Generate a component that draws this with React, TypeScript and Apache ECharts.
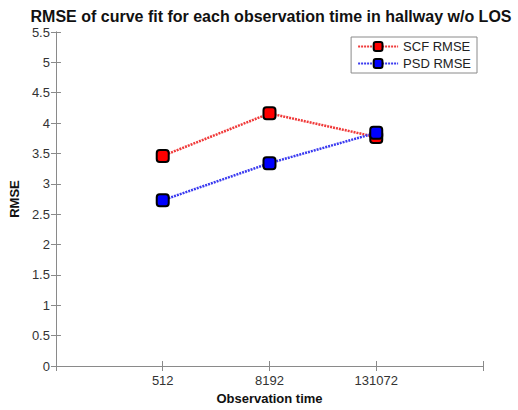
import React, { useEffect, useRef } from "react";
import * as echarts from "echarts";

const categories = ["512", "8192", "131072"];
const scfRmse = [3.46, 4.16, 3.77];
const psdRmse = [2.73, 3.34, 3.84];
const yTicks = [0, 0.5, 1, 1.5, 2, 2.5, 3, 3.5, 4, 4.5, 5, 5.5];

export default function App() {
  const ref = useRef<HTMLDivElement>(null);
  useEffect(() => {
    if (!ref.current) return;
    const chart = echarts.init(ref.current, undefined, { renderer: "svg" });
    const font = "Liberation Sans, Arial, sans-serif";
    const toPts = (arr: number[]) => arr.map((v, i) => [i + 1, v]);
    const axisLine = { show: true, lineStyle: { color: "#8a8a8a", width: 1 } };
    chart.setOption({
      animation: false,
      backgroundColor: "#fff",
      title: {
        text: "RMSE of curve fit for each observation time in hallway w/o LOS",
        left: 266,
        textAlign: "center",
        top: 3,
        textStyle: { fontFamily: font, fontSize: 16, fontWeight: "bold", color: "#111" },
      },
      grid: { left: 52, right: 35, top: 32, bottom: 38, containLabel: false },
      legend: {
        right: 41,
        top: 37,
        orient: "vertical",
        itemWidth: 40,
        itemHeight: 11,
        itemGap: 4,
        padding: [3, 6, 3, 6],
        backgroundColor: "#fff",
        borderColor: "#8a8a8a",
        borderWidth: 1,
        textStyle: { fontFamily: font, fontSize: 13, color: "#222" },
        data: ["SCF RMSE", "PSD RMSE"],
      },
      xAxis: [
        {
          type: "value",
          min: 0,
          max: 4,
          interval: 1,
          name: "Observation time",
          nameLocation: "middle",
          nameGap: 26,
          nameTextStyle: { fontFamily: font, fontSize: 13, fontWeight: "bold", color: "#111" },
          axisLine,
          axisTick: { show: true, inside: true, length: 5, lineStyle: { color: "#8a8a8a" } },
          axisLabel: {
            fontFamily: font,
            fontSize: 13,
            color: "#333",
            margin: 8,
            formatter: (v: number) => categories[v - 1] ?? "",
          },
          splitLine: { show: false },
        },
        {
          type: "value",
          position: "top",
          min: 0,
          max: 4,
          interval: 1,
          axisLine,
          axisTick: { show: true, inside: true, length: 5, lineStyle: { color: "#8a8a8a" } },
          axisLabel: { show: false },
          splitLine: { show: false },
        },
      ],
      yAxis: [
        {
          type: "value",
          min: yTicks[0],
          max: yTicks[yTicks.length - 1],
          interval: 0.5,
          name: "RMSE",
          nameLocation: "middle",
          nameGap: 32,
          nameTextStyle: { fontFamily: font, fontSize: 13, fontWeight: "bold", color: "#111" },
          axisLine,
          axisTick: { show: true, inside: true, length: 5, lineStyle: { color: "#8a8a8a" } },
          axisLabel: { fontFamily: font, fontSize: 13, color: "#333", margin: 6 },
          splitLine: { show: false },
        },
        {
          type: "value",
          position: "right",
          min: yTicks[0],
          max: yTicks[yTicks.length - 1],
          interval: 0.5,
          axisLine,
          axisTick: { show: true, inside: true, length: 5, lineStyle: { color: "#8a8a8a" } },
          axisLabel: { show: false },
          splitLine: { show: false },
        },
      ],
      series: [
        {
          name: "SCF RMSE",
          type: "line",
          data: toPts(scfRmse),
          symbol: "roundRect",
          symbolSize: 12,
          lineStyle: { color: "#f03a3a", width: 2.5, type: [2, 1] },
          itemStyle: { color: "#ff0000", borderColor: "#000", borderWidth: 2 },
          z: 2,
        },
        {
          name: "PSD RMSE",
          type: "line",
          data: toPts(psdRmse),
          symbol: "roundRect",
          symbolSize: 12,
          lineStyle: { color: "#3a3af0", width: 2.5, type: [2, 1] },
          itemStyle: { color: "#0000ff", borderColor: "#000", borderWidth: 2 },
          z: 3,
        },
      ],
    });
    return () => chart.dispose();
  }, []);
  return (
    <div
      ref={ref}
      style={{ position: "fixed", left: 0, top: 0, width: 518, height: 410 }}
    />
  );
}
